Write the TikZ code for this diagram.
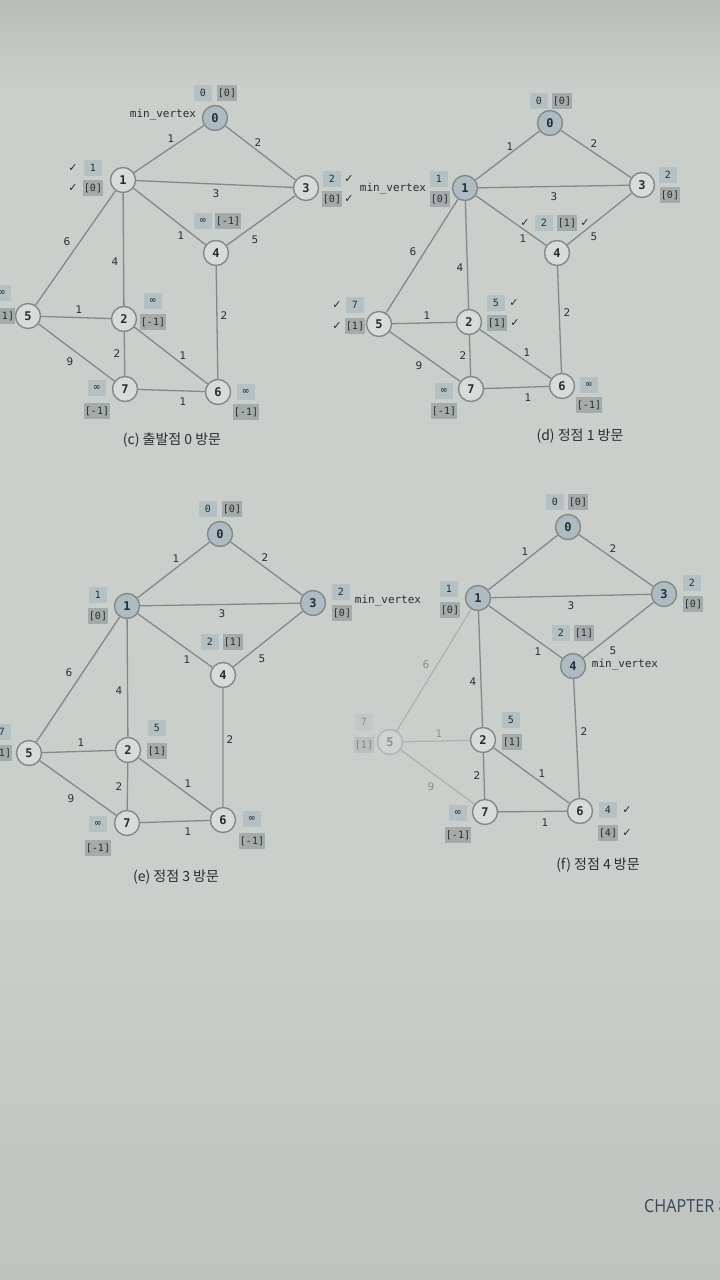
\documentclass[tikz,border=0pt]{standalone}
\usepackage{fontspec}
\setmainfont{DejaVu Sans}
\newfontfamily\monofont{DejaVu Sans Mono}
\newfontfamily\krfont{Noto Sans CJK KR}
\newfontfamily\chapfont{Open Sans}
\definecolor{bgtop}{RGB}{184,189,185}
\definecolor{bgmid}{RGB}{202,207,203}
\definecolor{bgbot}{RGB}{190,195,191}
\definecolor{linegray}{RGB}{130,138,137}
\definecolor{nodefill}{RGB}{214,220,218}
\definecolor{visitfill}{RGB}{172,188,194}
\definecolor{distfill}{RGB}{180,193,196}
\definecolor{predfill}{RGB}{164,171,171}
\definecolor{ink}{RGB}{38,46,48}
\definecolor{chapink}{RGB}{52,72,92}
\tikzset{
  vtx/.style={circle, draw=linegray, line width=1.4pt, fill=nodefill, minimum size=25pt,
    inner sep=0pt, font=\monofont\bfseries\fontsize{12}{12}\selectfont, text=ink},
  vtxon/.style={vtx, fill=visitfill},
  dist/.style={fill=distfill, minimum width=18pt, minimum height=16pt, inner sep=1pt,
    font=\monofont\fontsize{10}{10}\selectfont, text=ink},
  pred/.style={dist, fill=predfill},
  wt/.style={inner sep=0pt, font=\fontsize{10.5}{10.5}\selectfont, text=ink},
  tag/.style={inner sep=0pt, font=\monofont\fontsize{11}{11}\selectfont, text=ink},
  chk/.style={inner sep=0pt, font=\fontsize{11}{11}\selectfont, text=ink},
  caption/.style={inner sep=0pt, font=\krfont\fontsize{14}{14}\selectfont, text=ink},
  faint/.style={opacity=0.4},
  every edge/.style={draw=linegray, line width=1.3pt}
}

\begin{document}
\begin{tikzpicture}[x=1pt, y=-1pt]
  \useasboundingbox (0,0) rectangle (720,1280);
  \clip (0,0) rectangle (720,1280);
  \fill[bgmid] (0,0) rectangle (720,1280);
  \shade[top color=bgtop, bottom color=bgmid] (0,0) rectangle (720,90);
  \shade[top color=bgmid, bottom color=bgbot] (0,900) rectangle (720,1280);

  % (c) start vertex 0
  \node[vtxon] (c0) at (215,118) {0};
  \node[vtx] (c1) at (123,180) {1};
  \node[vtx] (c3) at (306,188) {3};
  \node[vtx] (c4) at (216,253) {4};
  \node[vtx] (c5) at (28,316) {5};
  \node[vtx] (c2) at (124,319) {2};
  \node[vtx] (c7) at (125,389) {7};
  \node[vtx] (c6) at (218,392) {6};
  \path (c0) edge (c1) edge (c3)
        (c1) edge (c3) edge (c4) edge (c5) edge (c2)
        (c3) edge (c4)
        (c4) edge (c6)
        (c5) edge (c2) edge (c7)
        (c2) edge (c7) edge (c6)
        (c7) edge (c6);
  \node[wt] (cw01) at (171,139) {1};
  \node[wt] (cw03) at (258,143) {2};
  \node[wt] (cw13) at (216,194) {3};
  \node[wt] (cw14) at (181,236) {1};
  \node[wt] (cw34) at (255,240) {5};
  \node[wt] (cw15) at (67,242) {6};
  \node[wt] (cw12) at (115,262) {4};
  \node[wt] (cw52) at (79,310) {1};
  \node[wt] (cw46) at (224,316) {2};
  \node[wt] (cw27) at (117,354) {2};
  \node[wt] (cw26) at (183,356) {1};
  \node[wt] (cw57) at (70,362) {9};
  \node[wt] (cw76) at (183,402) {1};
  \node[dist] (cd0) at (203,93) {0};
  \node[pred] (cp0) at (227,93) {[0]};
  \node[tag] (cmin) at (163,115) {min\_vertex};
  \node[chk] (ck1a) at (73,168) {✓};
  \node[dist] (cd1) at (93,168) {1};
  \node[chk] (ck1b) at (73,188) {✓};
  \node[pred] (cp1) at (93,188) {[0]};
  \node[dist] (cd3) at (332,179) {2};
  \node[chk] (ck3a) at (349,179) {✓};
  \node[pred] (cp3) at (332,199) {[0]};
  \node[chk] (ck3b) at (349,199) {✓};
  \node[dist] (cd4) at (203,221) {∞};
  \node[pred] (cp4) at (228,221) {[-1]};
  \node[dist] (cd5) at (2,293) {∞};
  \node[pred] (cp5) at (2,316) {[-1]};
  \node[dist] (cd2) at (153,301) {∞};
  \node[pred] (cp2) at (153,322) {[-1]};
  \node[dist] (cd7) at (97,388) {∞};
  \node[pred] (cp7) at (97,411) {[-1]};
  \node[dist] (cd6) at (246,392) {∞};
  \node[pred] (cp6) at (246,412) {[-1]};
  \node[caption] (ccap) at (172,440) {(c) 출발점 0 방문};

  % (d) visit vertex 1
  \node[vtxon] (d0) at (550,123) {0};
  \node[vtxon] (d1) at (465,188) {1};
  \node[vtx] (d3) at (642,185) {3};
  \node[vtx] (d4) at (557,253) {4};
  \node[vtx] (d5) at (379,324) {5};
  \node[vtx] (d2) at (469,322) {2};
  \node[vtx] (d7) at (471,389) {7};
  \node[vtx] (d6) at (562,386) {6};
  \path (d0) edge (d1) edge (d3)
        (d1) edge (d3) edge (d4) edge (d5) edge (d2)
        (d3) edge (d4)
        (d4) edge (d6)
        (d5) edge (d2) edge (d7)
        (d2) edge (d7) edge (d6)
        (d7) edge (d6);
  \node[wt] (dw01) at (510,147) {1};
  \node[wt] (dw03) at (594,144) {2};
  \node[wt] (dw13) at (554,197) {3};
  \node[wt] (dw14) at (523,239) {1};
  \node[wt] (dw34) at (594,237) {5};
  \node[wt] (dw15) at (413,252) {6};
  \node[wt] (dw12) at (460,268) {4};
  \node[wt] (dw52) at (427,316) {1};
  \node[wt] (dw46) at (567,313) {2};
  \node[wt] (dw27) at (463,356) {2};
  \node[wt] (dw26) at (527,353) {1};
  \node[wt] (dw57) at (419,366) {9};
  \node[wt] (dw76) at (528,398) {1};
  \node[dist] (dd0) at (539,101) {0};
  \node[pred] (dp0) at (562,101) {[0]};
  \node[tag] (dmin) at (393,189) {min\_vertex};
  \node[dist] (dd1) at (439,179) {1};
  \node[pred] (dp1) at (440,199) {[0]};
  \node[dist] (dd3) at (668,175) {2};
  \node[pred] (dp3) at (670,195) {[0]};
  \node[chk] (dk4a) at (525,223) {✓};
  \node[dist] (dd4) at (544,223) {2};
  \node[pred] (dp4) at (567,223) {[1]};
  \node[chk] (dk4b) at (585,223) {✓};
  \node[chk] (dk5a) at (337,305) {✓};
  \node[dist] (dd5) at (355,305) {7};
  \node[chk] (dk5b) at (337,326) {✓};
  \node[pred] (dp5) at (355,326) {[1]};
  \node[dist] (dd2) at (496,303) {5};
  \node[chk] (dk2a) at (514,303) {✓};
  \node[pred] (dp2) at (497,323) {[1]};
  \node[chk] (dk2b) at (515,323) {✓};
  \node[dist] (dd7) at (444,391) {∞};
  \node[pred] (dp7) at (444,411) {[-1]};
  \node[dist] (dd6) at (589,385) {∞};
  \node[pred] (dp6) at (589,405) {[-1]};
  \node[caption] (dcap) at (580,436) {(d) 정점 1 방문};

  % (e) visit vertex 3
  \node[vtxon] (e0) at (220,534) {0};
  \node[vtxon] (e1) at (127,606) {1};
  \node[vtxon] (e3) at (313,603) {3};
  \node[vtx] (e4) at (223,675) {4};
  \node[vtx] (e5) at (29,753) {5};
  \node[vtx] (e2) at (128,750) {2};
  \node[vtx] (e7) at (127,823) {7};
  \node[vtx] (e6) at (223,820) {6};
  \path (e0) edge (e1) edge (e3)
        (e1) edge (e3) edge (e4) edge (e5) edge (e2)
        (e3) edge (e4)
        (e4) edge[opacity=0.6] (e6)
        (e5) edge (e2) edge (e7)
        (e2) edge (e7) edge (e6)
        (e7) edge (e6);
  \node[wt] (ew01) at (176,559) {1};
  \node[wt] (ew03) at (265,558) {2};
  \node[wt] (ew13) at (222,614) {3};
  \node[wt] (ew14) at (187,660) {1};
  \node[wt] (ew34) at (262,659) {5};
  \node[wt] (ew15) at (69,673) {6};
  \node[wt] (ew12) at (119,691) {4};
  \node[wt] (ew52) at (81,743) {1};
  \node[wt] (ew46) at (230,740) {2};
  \node[wt] (ew27) at (119,787) {2};
  \node[wt] (ew26) at (188,784) {1};
  \node[wt] (ew57) at (71,799) {9};
  \node[wt] (ew76) at (188,832) {1};
  \node[dist] (ed0) at (208,509) {0};
  \node[pred] (ep0) at (232,509) {[0]};
  \node[dist] (ed1) at (98,595) {1};
  \node[pred] (ep1) at (98,616) {[0]};
  \node[dist] (ed3) at (341,592) {2};
  \node[pred] (ep3) at (342,613) {[0]};
  \node[tag] (emin) at (388,601) {min\_vertex};
  \node[dist] (ed4) at (210,642) {2};
  \node[pred] (ep4) at (233,642) {[1]};
  \node[dist] (ed5) at (2,732) {7};
  \node[pred] (ep5) at (2,753) {[1]};
  \node[dist] (ed2) at (157,728) {5};
  \node[pred] (ep2) at (157,751) {[1]};
  \node[dist] (ed7) at (98,824) {∞};
  \node[pred] (ep7) at (98,848) {[-1]};
  \node[dist] (ed6) at (252,819) {∞};
  \node[pred] (ep6) at (252,841) {[-1]};
  \node[caption] (ecap) at (176,877) {(e) 정점 3 방문};

  % (f) visit vertex 4
  \node[vtxon] (f0) at (568,527) {0};
  \node[vtxon] (f1) at (478,598) {1};
  \node[vtxon] (f3) at (664,594) {3};
  \node[vtxon] (f4) at (573,666) {4};
  \node[vtx, faint] (f5) at (390,742) {5};
  \node[vtx] (f2) at (483,740) {2};
  \node[vtx] (f7) at (485,812) {7};
  \node[vtx] (f6) at (580,811) {6};
  \path (f0) edge (f1) edge (f3)
        (f1) edge (f3) edge (f4) edge[faint] (f5) edge (f2)
        (f3) edge (f4)
        (f4) edge (f6)
        (f5) edge[faint] (f2) edge[faint] (f7)
        (f2) edge (f7) edge (f6)
        (f7) edge (f6);
  \node[wt] (fw01) at (525,552) {1};
  \node[wt] (fw03) at (613,549) {2};
  \node[wt] (fw13) at (571,606) {3};
  \node[wt] (fw14) at (538,652) {1};
  \node[wt] (fw34) at (613,651) {5};
  \node[wt, faint] (fw15) at (426,665) {6};
  \node[wt] (fw12) at (473,682) {4};
  \node[wt, faint] (fw52) at (439,734) {1};
  \node[wt] (fw46) at (584,732) {2};
  \node[wt] (fw27) at (477,776) {2};
  \node[wt] (fw26) at (542,774) {1};
  \node[wt, faint] (fw57) at (431,787) {9};
  \node[wt] (fw76) at (545,823) {1};
  \node[dist] (fd0) at (555,502) {0};
  \node[pred] (fp0) at (578,502) {[0]};
  \node[dist] (fd1) at (449,589) {1};
  \node[pred] (fp1) at (450,610) {[0]};
  \node[dist] (fd3) at (692,583) {2};
  \node[pred] (fp3) at (693,604) {[0]};
  \node[dist] (fd4) at (561,633) {2};
  \node[pred] (fp4) at (584,633) {[1]};
  \node[tag] (fmin) at (625,665) {min\_vertex};
  \node[dist, faint] (fd5) at (364,722) {7};
  \node[pred, faint] (fp5) at (364,745) {[1]};
  \node[dist] (fd2) at (511,720) {5};
  \node[pred] (fp2) at (512,742) {[1]};
  \node[dist] (fd7) at (458,813) {∞};
  \node[pred] (fp7) at (458,835) {[-1]};
  \node[dist] (fd6) at (608,810) {4};
  \node[chk] (fk6a) at (627,810) {✓};
  \node[pred] (fp6) at (608,833) {[4]};
  \node[chk] (fk6b) at (627,833) {✓};
  \node[caption] (fcap) at (598,865) {(f) 정점 4 방문};

  \node[anchor=west, inner sep=0pt, text=chapink,
    font=\chapfont\fontsize{18}{18}\selectfont] (chap) at (644,1206) {\scalebox{0.9}[1]{CHAPTER 8}};
\end{tikzpicture}
\end{document}
